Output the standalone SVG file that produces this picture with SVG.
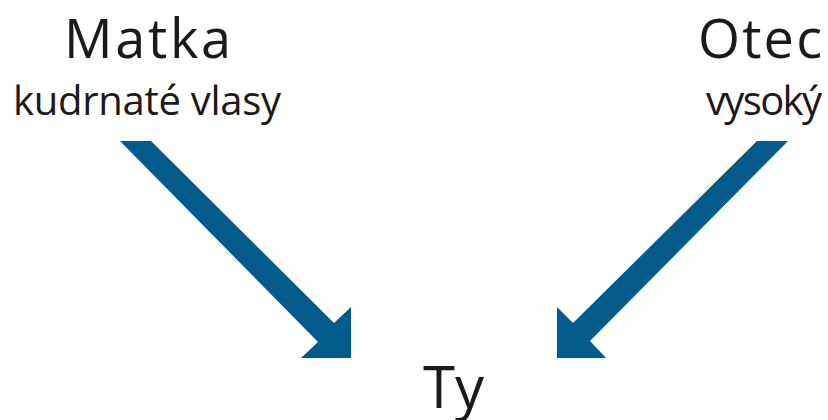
<svg xmlns="http://www.w3.org/2000/svg" width="828" height="420" viewBox="0 0 828 420">
<style>
.t{font-family:"Open Sans","Noto Sans",sans-serif;fill:#1a1a1a}
.big{font-size:54px}
.small{font-size:40px}
.arr{fill:#035b8c}
</style>
<rect width="828" height="420" fill="#fff"/>
<g id="matka">
<text class="t big" x="64" y="58" textLength="167" lengthAdjust="spacing">Matka</text>
<text class="t small" x="13" y="115" textLength="268" lengthAdjust="spacing">kudrnaté vlasy</text>
</g>
<g id="otec">
<text class="t big" x="698" y="58" textLength="124" lengthAdjust="spacing">Otec</text>
<text class="t small" x="706" y="115" textLength="116" lengthAdjust="spacing">vysoký</text>
</g>
<g id="ty">
<text class="t" x="423" y="408" style="font-size:58px">Ty</text>
</g>
<g id="connectors">
<path class="arr" d="M120,141 L151,141 L334,323 L351,307 L351,358 L301,358 L318,342 Z"/>
<path class="arr" d="M788,141 L757,141 L573,323 L557,307 L557,358 L606,358 L590,341 Z"/>
</g>
</svg>
